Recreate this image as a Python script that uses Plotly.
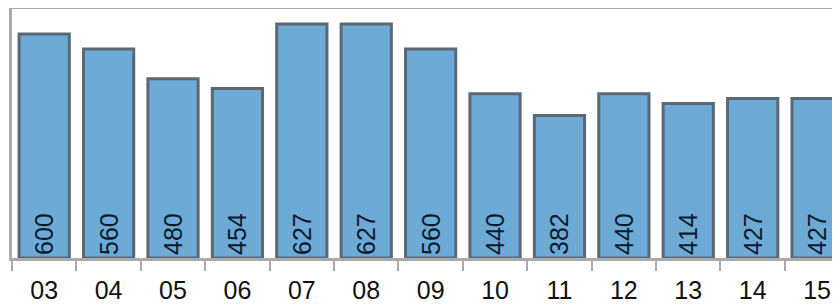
import plotly.graph_objects as go

categories = ["03", "04", "05", "06", "07", "08", "09", "10", "11", "12", "13", "14", "15"]
values = [600, 560, 480, 454, 627, 627, 560, 440, 382, 440, 414, 427, 427]
labels = [str(v) for v in values]

fig = go.Figure(go.Bar(
    x=categories,
    y=values,
    text=labels,
    textposition="inside",
    insidetextanchor="start",
    textangle=-90,
    textfont=dict(family="Liberation Sans, Arial", size=25, color="#0d1a2e"),
    marker=dict(color="#6eaad6", line=dict(color="#5c6874", width=3)),
    width=0.78,
    cliponaxis=True,
))

# page body adds an 8px offset; figure sized to fill the visible window
fig.update_layout(
    width=840, height=298,
    margin=dict(l=4, r=0, t=1, b=48, autoexpand=False),
    paper_bgcolor="white", plot_bgcolor="white",
    showlegend=False,
    uniformtext=dict(minsize=10, mode="show"),
)
fig.update_xaxes(
    type="category",
    automargin=False,
    range=[-0.5, 12.48],
    showline=True, linecolor="#aaaaaa", linewidth=3, mirror=True,
    ticks="outside", tickson="boundaries", ticklen=10, tickcolor="#aaaaaa", tickwidth=2,
    tickfont=dict(family="Liberation Sans, Arial", size=25, color="#111111"),
    ticklabelstandoff=8,
    showgrid=False,
)
fig.update_yaxes(
    automargin=False,
    range=[0, 667],
    showline=True, linecolor="#aaaaaa", linewidth=3, mirror=False,
    showticklabels=False, ticks="", showgrid=False, zeroline=False,
)

fig.write_html("out.html")
